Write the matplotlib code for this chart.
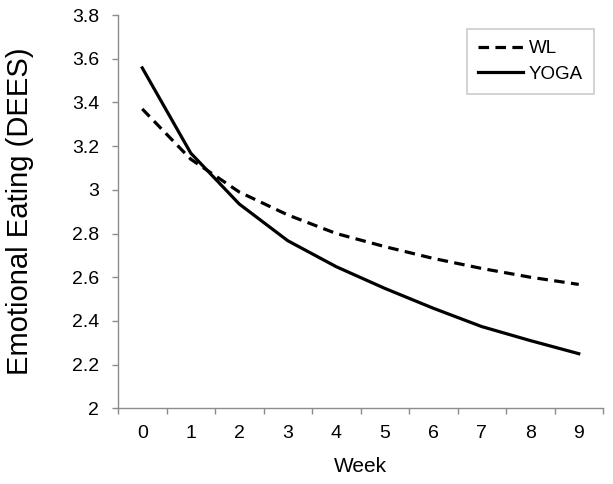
import matplotlib
matplotlib.use("Agg")
import matplotlib.pyplot as plt
import numpy as np

plt.rcParams['font.family'] = ['Liberation Sans', 'DejaVu Sans']

weeks = ["0", "1", "2", "3", "4", "5", "6", "7", "8", "9"]
wl = [3.37, 3.14, 2.99, 2.885, 2.80, 2.74, 2.686, 2.64, 2.60, 2.567]
yoga = [3.558, 3.168, 2.935, 2.767, 2.648, 2.549, 2.458, 2.374, 2.31, 2.25]
yticks = [2, 2.2, 2.4, 2.6, 2.8, 3, 3.2, 3.4, 3.6, 3.8]
ytick_labels = ["2", "2.2", "2.4", "2.6", "2.8", "3", "3.2", "3.4", "3.6", "3.8"]

W, H = 613, 484
fig = plt.figure(figsize=(W/100, H/100), dpi=100)
ax = fig.add_axes([118/W, (H-408.3)/H, (603-118)/W, (408.3-15)/H])

x = np.arange(len(weeks))
ax.plot(x, wl, color='black', lw=2.3, dashes=(3.3, 2.0), label='WL')
ax.plot(x, yoga, color='black', lw=2.3, label='YOGA')

ax.set_xlim(-0.5, len(weeks)-0.5)
ax.set_ylim(2, 3.8)
ax.set_yticks(yticks)
ax.set_yticklabels(ytick_labels)
ax.set_xticks(np.arange(-0.5, len(weeks), 1.0))
ax.set_xticklabels([])
ax.set_xticks(x, minor=True)
ax.set_xticklabels(weeks, minor=True)

gray = '#8c8c8c'
for s in ['top', 'right']:
    ax.spines[s].set_visible(False)
for s in ['left', 'bottom']:
    ax.spines[s].set_color(gray)
    ax.spines[s].set_linewidth(1.0)
ax.tick_params(axis='both', which='major', direction='out', length=4.5, width=1.0, color=gray,
               labelsize=14, labelcolor='black')
ax.tick_params(axis='y', pad=9)
ax.tick_params(axis='x', which='minor', length=0, labelsize=14, pad=12)

ax.set_ylabel('Emotional Eating (DEES)', fontsize=21, labelpad=27)
ax.set_xlabel('Week', fontsize=15, labelpad=11)

leg = ax.legend(loc='upper right', bbox_to_anchor=(594/W, (H-29)/H), bbox_transform=fig.transFigure,
                frameon=True, fancybox=False, fontsize=13.5, handlelength=2.4, handletextpad=0.3,
                borderpad=0.6, labelspacing=0.45, borderaxespad=0)
leg.get_frame().set_edgecolor('#bfbfbf')
leg.get_frame().set_linewidth(1.2)

fig.savefig('out.png', dpi=100)
